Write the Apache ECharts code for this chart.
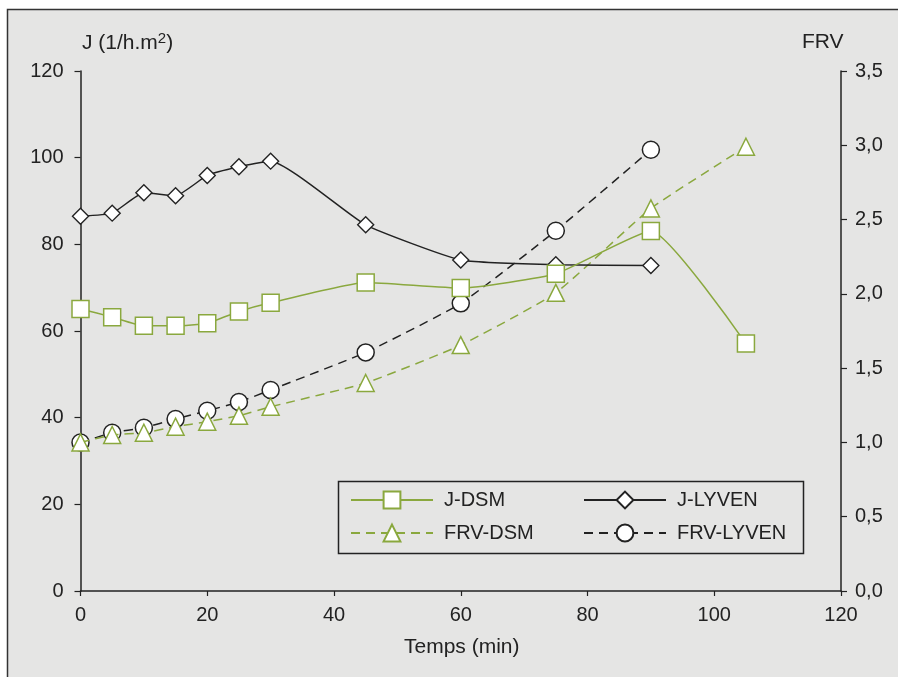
<!DOCTYPE html>
<html>
<head>
<meta charset="utf-8">
<script src="https://cdn.jsdelivr.net/npm/echarts@6/dist/echarts.min.js"></script>
<style>html,body{margin:0;padding:0;background:#fff}#c{width:898px;height:677px}</style>
</head>
<body>
<div id="c"></div>
<script>
const timesLYVEN = [0, 5, 10, 15, 20, 25, 30, 45, 60, 75, 90];
const timesDSM = [0, 5, 10, 15, 20, 25, 30, 45, 60, 75, 90, 105];
const jDSM = [65.1, 63.2, 61.2, 61.2, 61.8, 64.5, 66.5, 71.2, 69.9, 73.2, 83.1, 57.1];
const jLYVEN = [86.5, 87.2, 91.9, 91.2, 95.9, 97.9, 99.2, 84.5, 76.4, 75.3, 75.1];
const frvDSM = [1.0, 1.05, 1.065, 1.106, 1.14, 1.18, 1.24, 1.40, 1.655, 2.007, 2.575, 2.99];
const frvLYVEN = [1.0, 1.065, 1.099, 1.157, 1.213, 1.272, 1.353, 1.606, 1.936, 2.425, 2.97];
const seriesNames = ['J-DSM', 'J-LYVEN', 'FRV-DSM', 'FRV-LYVEN'];
const xTitle = 'Temps (min)';
const yLeftTitle = 'J (1/h.m{sup|2})';
const yRightTitle = 'FRV';

const FONT = "'Liberation Sans', Arial, sans-serif";
const GREEN = '#8aa83e';
const DARK = '#222';
const pairs = (xs, ys) => xs.map((x, i) => [x, ys[i]]);

const chart = echarts.init(document.getElementById('c'), null, {renderer: 'canvas'});
const legendBase = {
  orient: 'horizontal', itemWidth: 82, itemHeight: 21, itemGap: 10, padding: 0,
  textStyle: {fontFamily: FONT, fontSize: 20, color: DARK, padding: [0, 0, 0, 6]}
};
chart.setOption({
  backgroundColor: '#fff',
  animation: false,
  grid: {left: 80.5, right: 57, top: 71, bottom: 86},
  xAxis: {
    type: 'value', min: 0, max: 120, interval: 20,
    axisLine: {lineStyle: {color: DARK, width: 1.5}},
    axisTick: {show: true, inside: false, length: 5, lineStyle: {color: DARK, width: 1.2}},
    axisLabel: {fontFamily: FONT, fontSize: 20, color: DARK, margin: 14},
    splitLine: {show: false}
  },
  yAxis: [{
    type: 'value', min: 0, max: 120, interval: 20, position: 'left',
    axisLine: {show: true, lineStyle: {color: DARK, width: 1.5}},
    axisTick: {show: true, inside: false, length: 6, lineStyle: {color: DARK, width: 1.2}},
    axisLabel: {fontFamily: FONT, fontSize: 20, color: DARK, margin: 17},
    splitLine: {show: false}
  }, {
    type: 'value', min: 0, max: 3.5, interval: 0.5, position: 'right',
    axisLine: {show: true, lineStyle: {color: DARK, width: 1.5}},
    axisTick: {show: true, inside: false, length: 6, lineStyle: {color: DARK, width: 1.2}},
    axisLabel: {fontFamily: FONT, fontSize: 20, color: DARK, margin: 14,
      formatter: v => v.toFixed(1).replace('.', ',')},
    splitLine: {show: false}
  }],
  legend: [
    Object.assign({}, legendBase, {data: [seriesNames[0]], left: 350, top: 490}),
    Object.assign({}, legendBase, {data: [seriesNames[1]], left: 583, top: 490}),
    Object.assign({}, legendBase, {data: [seriesNames[2]], left: 350, top: 523}),
    Object.assign({}, legendBase, {data: [seriesNames[3]], left: 583, top: 523})
  ],
  graphic: [
    {type: 'rect', z: -10, shape: {x: 7.5, y: 9.5, width: 1000, height: 1000},
      style: {fill: '#e5e5e4', stroke: '#333', lineWidth: 1.5}},
    {type: 'rect', z: 1, shape: {x: 338.5, y: 481.5, width: 465, height: 72},
      style: {fill: 'none', stroke: DARK, lineWidth: 1.5}},
    {type: 'text', left: 82, top: 31, style: {text: yLeftTitle, fontFamily: FONT, fontSize: 21, fill: DARK,
      rich: {sup: {fontSize: 15, verticalAlign: 'top', padding: [0, 0, 9, 0], fontFamily: FONT, fill: DARK}}}},
    {type: 'text', left: 802, top: 32, style: {text: yRightTitle, fontFamily: FONT, fontSize: 21, fill: DARK}},
    {type: 'text', left: 404, top: 637, style: {text: xTitle, fontFamily: FONT, fontSize: 21, fill: DARK}}
  ],
  series: [
    {name: seriesNames[3], type: 'line', yAxisIndex: 1, data: pairs(timesLYVEN, frvLYVEN), smooth: 0.15,
      symbol: 'circle', symbolSize: 17, z: 2,
      lineStyle: {color: DARK, width: 1.5, type: [9, 6]},
      itemStyle: {color: '#fff', borderColor: DARK, borderWidth: 1.5}},
    {name: seriesNames[2], type: 'line', yAxisIndex: 1, data: pairs(timesDSM, frvDSM), smooth: 0.15,
      symbol: 'triangle', symbolSize: 17, z: 3,
      lineStyle: {color: GREEN, width: 1.5, type: [9, 6]},
      itemStyle: {color: '#fff', borderColor: GREEN, borderWidth: 1.5}},
    {name: seriesNames[1], type: 'line', yAxisIndex: 0, data: pairs(timesLYVEN, jLYVEN), smooth: 0.15,
      symbol: 'diamond', symbolSize: 16, z: 4,
      lineStyle: {color: DARK, width: 1.5},
      itemStyle: {color: '#fff', borderColor: DARK, borderWidth: 1.4}},
    {name: seriesNames[0], type: 'line', yAxisIndex: 0, data: pairs(timesDSM, jDSM), smooth: 0.15,
      symbol: 'rect', symbolSize: 17, z: 5,
      lineStyle: {color: GREEN, width: 1.5},
      itemStyle: {color: '#fff', borderColor: GREEN, borderWidth: 1.5}}
  ]
});
</script>
</body>
</html>
